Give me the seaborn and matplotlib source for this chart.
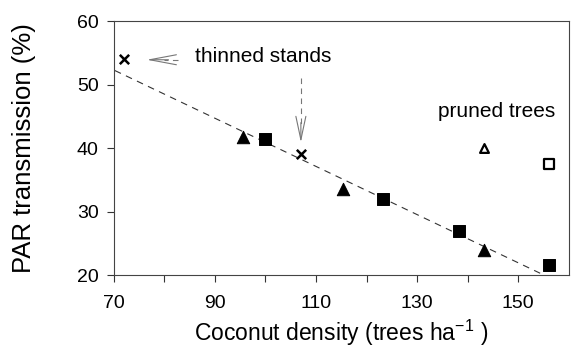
import matplotlib
matplotlib.use("Agg")
import matplotlib.pyplot as plt
import seaborn as sns
import pandas as pd

# Data
thinned_x = [72.0, 107.1]
thinned_y = [54.0, 39.1]
tri_x = [95.6, 115.4, 143.3]
tri_y = [41.8, 33.5, 23.9]
sq_x = [100.0, 123.2, 138.2, 156.1]
sq_y = [41.5, 32.0, 27.0, 21.6]
pruned_tri_x = [143.3]
pruned_tri_y = [40.0]
pruned_sq_x = [156.1]
pruned_sq_y = [37.5]
fit_x = [70.2, 155.9]
fit_y = [52.2, 19.7]

x_ticks = [70, 90, 110, 130, 150]
y_ticks = [20, 30, 40, 50, 60]

sns.set_theme(style="ticks")
plt.rcParams['font.family'] = ['Liberation Sans', 'DejaVu Sans']
plt.rcParams['mathtext.fontset'] = 'custom'
plt.rcParams['mathtext.rm'] = 'Liberation Sans'
plt.rcParams['mathtext.default'] = 'rm'
plt.rcParams['text.color'] = 'black'
plt.rcParams['axes.labelcolor'] = 'black'
plt.rcParams['xtick.color'] = 'black'
plt.rcParams['ytick.color'] = 'black'

fig = plt.figure(figsize=(5.78, 3.5), dpi=100)
ax = fig.add_axes([0.197, 0.214, 0.787, 0.726])

sns.lineplot(x=fit_x, y=fit_y, ax=ax, color='#333333', lw=0.8,
             linestyle=(0, (6, 5)), legend=False)
sns.scatterplot(x=thinned_x, y=thinned_y, ax=ax, marker='x', s=45,
                color='black', linewidth=1.8, legend=False, zorder=3)
sns.scatterplot(x=tri_x, y=tri_y, ax=ax, marker='^', s=80,
                color='black', edgecolor='black', legend=False, zorder=3)
sns.scatterplot(x=sq_x, y=sq_y, ax=ax, marker='s', s=75,
                color='black', edgecolor='black', legend=False, zorder=3)
sns.scatterplot(x=pruned_tri_x, y=pruned_tri_y, ax=ax, marker='^', s=40,
                facecolor='white', edgecolor='black', linewidth=1.6,
                legend=False, zorder=3)
sns.scatterplot(x=pruned_sq_x, y=pruned_sq_y, ax=ax, marker='s', s=50,
                facecolor='white', edgecolor='black', linewidth=1.6,
                legend=False, zorder=3)

ax.set_xlim(70, 160)
ax.set_ylim(20, 60)
ax.set_xticks(x_ticks)
ax.set_xticks([80, 100, 120, 140], minor=True)
ax.set_yticks(y_ticks)
ax.tick_params(axis='both', which='both', direction='out', length=5,
               width=0.8, color='#333333', labelsize=14)
ax.tick_params(axis='x', pad=9)
ax.tick_params(axis='y', pad=6)
for s in ax.spines.values():
    s.set_visible(True)
    s.set_color('#444444')
    s.set_linewidth(0.8)

ax.set_xlabel('Coconut density (trees ha$^{-1}$ )', fontsize=16.5)
ax.set_ylabel('PAR transmission (%)', fontsize=18.5)
ax.xaxis.label.set_va('center')
ax.yaxis.label.set_va('center')
ax.xaxis.set_label_coords(0.499, -0.228)
ax.yaxis.set_label_coords(-0.198, 0.5)

# annotations
ax.text(86.0, 54.4, 'thinned stands', fontsize=15, va='center', ha='left')
ax.text(134.2, 45.8, 'pruned trees', fontsize=15, va='center', ha='left')

gray = '#777777'
# left arrow
ax.plot([82.6, 80.0], [53.9, 53.9], color=gray, lw=0.8, linestyle=(0, (5, 4)))
ax.annotate('', xy=(76.5, 53.9), xytext=(80.8, 53.9),
            arrowprops=dict(arrowstyle='->,head_length=1.6,head_width=0.3',
                            color=gray, lw=0.8, shrinkA=0, shrinkB=0))
# vertical arrow
ax.plot([107.0, 107.0], [51.0, 43.5], color=gray, lw=0.8, linestyle=(0, (5, 4)))
ax.annotate('', xy=(107.0, 40.9), xytext=(107.0, 44.0),
            arrowprops=dict(arrowstyle='->,head_length=1.4,head_width=0.3',
                            color=gray, lw=0.8, shrinkA=0, shrinkB=0))

fig.savefig('out.png', dpi=100)
